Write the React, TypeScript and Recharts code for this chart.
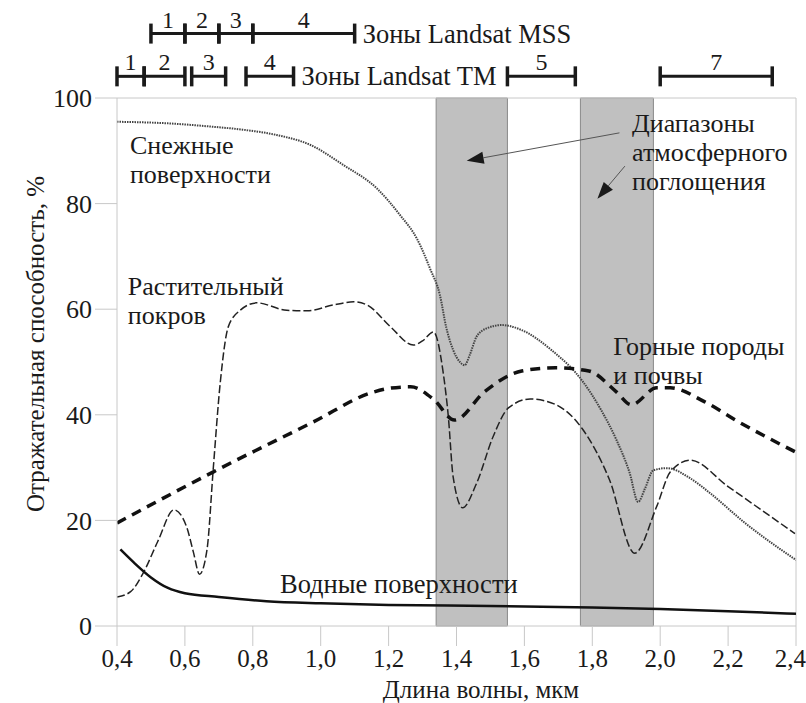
import React from "react";
import { LineChart, Line, XAxis, YAxis, ReferenceArea, ReferenceLine, ReferenceDot, Label } from "recharts";

const FONT = "Liberation Serif, Tinos, DejaVu Serif, Times New Roman, serif";
const INK = "#1a1a1a";
const FS = 26;

// x ticks and y ticks
const xTicks = [0.4, 0.6, 0.8, 1.0, 1.2, 1.4, 1.6, 1.8, 2.0, 2.2, 2.4];
const yTicks = [0, 20, 40, 60, 80, 100];

// atmospheric absorption bands, µm
const bandStart = [1.34, 1.765];
const bandEnd = [1.55, 1.98];

// Landsat zones
const mssStart = [0.5, 0.6, 0.7, 0.8];
const mssEnd = [0.6, 0.7, 0.8, 1.1];
const mssLabels = ["1", "2", "3", "4"];
const tmStart = [0.4, 0.48, 0.62, 0.78, 1.55, 2.0];
const tmEnd = [0.48, 0.6, 0.72, 0.92, 1.75, 2.33];
const tmLabels = ["1", "2", "3", "4", "5", "7"];
const MSS_Y = 112.2;
const TM_Y = 104.1;

// snow
const snowX = [0.4, 0.55, 0.674, 0.77, 0.87, 0.97, 1.067, 1.165, 1.234, 1.283, 1.322, 1.351, 1.37, 1.39, 1.41, 1.424, 1.44, 1.459, 1.49, 1.533, 1.59, 1.679, 1.772, 1.826, 1.87, 1.91, 1.935, 1.955, 1.98, 2.02, 2.088, 2.15, 2.25, 2.4];
const snowY = [95.5, 95.2, 94.6, 94.0, 93.0, 91.1, 87.3, 82.9, 77.8, 73.4, 67.7, 62.7, 56.5, 52.3, 50.0, 49.4, 51.5, 54.8, 56.4, 57.0, 56.1, 52.3, 46.3, 40.9, 35.4, 29.0, 23.5, 26.0, 29.5, 29.9, 28.0, 25.0, 19.5, 12.5];

// vegetation
const vegX = [0.4, 0.44, 0.477, 0.52, 0.568, 0.605, 0.625, 0.643, 0.665, 0.684, 0.704, 0.728, 0.763, 0.812, 0.9, 0.96, 1.037, 1.097, 1.137, 1.205, 1.273, 1.3, 1.332, 1.361, 1.376, 1.39, 1.418, 1.459, 1.508, 1.553, 1.617, 1.69, 1.77, 1.85, 1.925, 1.99, 2.03, 2.088, 2.2, 2.397];
const vegY = [5.5, 6.5, 10.0, 16.0, 22.0, 18.8, 14.0, 9.8, 14.4, 30.2, 46.0, 56.7, 59.8, 61.2, 59.8, 59.7, 60.8, 61.4, 60.8, 56.7, 53.2, 54.0, 55.7, 47.9, 39.6, 28.3, 22.4, 27.0, 35.9, 41.3, 43.0, 42.0, 37.4, 27.8, 13.8, 22.7, 29.2, 31.4, 26.4, 17.5];

// rocks and soils
const rockX = [0.4, 0.684, 0.98, 1.15, 1.2, 1.265, 1.333, 1.394, 1.483, 1.592, 1.692, 1.79, 1.87, 1.915, 1.99, 2.03, 2.13, 2.23, 2.397];
const rockY = [19.5, 29.2, 38.7, 44.2, 45.0, 45.3, 42.9, 39.0, 44.4, 48.3, 48.9, 48.3, 44.4, 41.9, 45.1, 45.1, 42.5, 38.7, 33.0];

// water
const waterX = [0.41, 0.45, 0.5, 0.55, 0.6, 0.7, 0.84, 1.0, 1.2, 1.5, 1.8, 2.0, 2.2, 2.4];
const waterY = [14.5, 12.0, 9.2, 7.2, 6.2, 5.5, 4.7, 4.3, 4.0, 3.8, 3.5, 3.2, 2.8, 2.3];

const pairs = (xs: number[], ys: number[]) => xs.map((x, i) => ({ x, y: ys[i] }));
const snow = pairs(snowX, snowY);
const veg = pairs(vegX, vegY);
const rock = pairs(rockX, rockY);
const water = pairs(waterX, waterY);

const zoneShape = (num: string, after?: string) => (p: any) => {
  const { x1, y1, x2 } = p;
  return (
    <g>
      <line x1={x1} x2={x2} y1={y1} y2={y1} stroke={INK} strokeWidth={3} />
      <line x1={x1} x2={x1} y1={y1 - 10} y2={y1 + 10} stroke={INK} strokeWidth={3.5} />
      <line x1={x2} x2={x2} y1={y1 - 10} y2={y1 + 10} stroke={INK} strokeWidth={3.5} />
      <text x={(x1 + x2) / 2} y={y1 - 14} textAnchor="middle" dominantBaseline="central" fontSize={24} fontFamily={FONT} fill={INK}>{num}</text>
      {after && (
        <text x={x2 + 8} y={y1} dominantBaseline="central" fontSize={26.5} fontFamily={FONT} fill={INK}>{after}</text>
      )}
    </g>
  );
};

const arrowShape = (p: any) => {
  const { x1, y1, x2, y2 } = p;
  const a = Math.atan2(y2 - y1, x2 - x1);
  const len = 17, hw = 6;
  const bx = x2 - len * Math.cos(a), by = y2 - len * Math.sin(a);
  const nx = -Math.sin(a) * hw, ny = Math.cos(a) * hw;
  return (
    <g>
      <line x1={x1} y1={y1} x2={bx} y2={by} stroke="#555" strokeWidth={1} />
      <polygon points={`${x2},${y2} ${bx + nx},${by + ny} ${bx - nx},${by - ny}`} fill={INK} />
    </g>
  );
};

const textShape = (lines: string[], size: number = FS) => (p: any) => (
  <text x={p.cx} y={p.cy} fontSize={size} fontFamily={FONT} fill={INK} dominantBaseline="central">
    {lines.map((l, i) => (
      <tspan key={i} x={p.cx} dy={i === 0 ? 0 : 29}>{l}</tspan>
    ))}
  </text>
);

const fmtX = (v: number) => v.toFixed(1).replace(".", ",");

export default function App() {
  return (
    <div style={{ position: "absolute", left: 0, top: 0, background: "#fff", fontFamily: FONT }}>
      <LineChart width={806} height={703} margin={{ top: 98, right: 10, left: 0, bottom: 27 }} style={{ fontFamily: FONT }}>
        <XAxis
          type="number"
          dataKey="x"
          domain={[0.4, 2.4]}
          ticks={xTicks}
          tickFormatter={fmtX}
          stroke="#c8c8c8"
          tickSize={20}
          tickMargin={3}
          height={50}
          tick={{ fill: INK, fontSize: 25, fontFamily: FONT }}
          allowDataOverflow
        >
          <Label content={() => (
            <text x={481} y={689} textAnchor="middle" dominantBaseline="central" fontSize={25} fontFamily={FONT} fill={INK}>
              Длина волны, мкм
            </text>
          )} />
        </XAxis>
        <YAxis
          type="number"
          dataKey="y"
          domain={[0, 100]}
          ticks={yTicks}
          stroke="#c8c8c8"
          tickSize={22}
          tickMargin={3}
          width={117}
          tick={{ fill: INK, fontSize: 26, fontFamily: FONT }}
          allowDataOverflow
        >
          <Label content={() => (
            <text x={35} y={344} transform="rotate(-90 35 344)" textAnchor="middle" dominantBaseline="central" fontSize={25} fontFamily={FONT} fill={INK}>
              Отражательная способность, %
            </text>
          )} />
        </YAxis>

        <ReferenceLine y={100} stroke="#c8c8c8" />
        <ReferenceLine x={2.4} stroke="#c8c8c8" />

        {bandStart.map((b, i) => (
          <ReferenceArea key={"band" + i} x1={b} x2={bandEnd[i]} y1={0} y2={100} fill="#c0c0c0" fillOpacity={1} stroke="#8a8a8a" strokeWidth={1} />
        ))}

        {mssStart.map((s, i) => (
          <ReferenceLine
            key={"mss" + i}
            segment={[{ x: s, y: MSS_Y }, { x: mssEnd[i], y: MSS_Y }]}
            ifOverflow="visible"
            shape={zoneShape(mssLabels[i], i === mssStart.length - 1 ? "Зоны Landsat MSS" : undefined)}
          />
        ))}
        {tmStart.map((s, i) => (
          <ReferenceLine
            key={"tm" + i}
            segment={[{ x: s, y: TM_Y }, { x: tmEnd[i], y: TM_Y }]}
            ifOverflow="visible"
            shape={zoneShape(tmLabels[i], i === 3 ? "Зоны Landsat TM" : undefined)}
          />
        ))}

        <Line data={snow} dataKey="y" type="monotone" stroke="#444" strokeWidth={2} strokeDasharray="1.5 1" dot={false} isAnimationActive={false} />
        <Line data={veg} dataKey="y" type="monotone" stroke="#222" strokeWidth={1.5} strokeDasharray="8 3" dot={false} isAnimationActive={false} />
        <Line data={rock} dataKey="y" type="monotone" stroke="#111" strokeWidth={3.5} strokeDasharray="10 7" dot={false} isAnimationActive={false} />
        <Line data={water} dataKey="y" type="monotone" stroke="#111" strokeWidth={2.5} dot={false} isAnimationActive={false} />

        <ReferenceLine segment={[{ x: 1.88, y: 93.4 }, { x: 1.43, y: 88.1 }]} ifOverflow="visible" shape={arrowShape} />
        <ReferenceLine segment={[{ x: 1.896, y: 87.1 }, { x: 1.815, y: 80.9 }]} ifOverflow="visible" shape={arrowShape} />

        <ReferenceDot x={0.438} y={91.1} r={1} ifOverflow="visible" shape={textShape(["Снежные", "поверхности"])} />
        <ReferenceDot x={0.432} y={64.4} r={1} ifOverflow="visible" shape={textShape(["Растительный", "покров"])} />
        <ReferenceDot x={0.88} y={8.0} r={1} ifOverflow="visible" shape={textShape(["Водные поверхности"], 26.5)} />
        <ReferenceDot x={1.862} y={53.0} r={1} ifOverflow="visible" shape={textShape(["Горные породы", "и почвы"])} />
        <ReferenceDot x={1.917} y={95.2} r={1} ifOverflow="visible" shape={textShape(["Диапазоны", "атмосферного", "поглощения"])} />
      </LineChart>
    </div>
  );
}
